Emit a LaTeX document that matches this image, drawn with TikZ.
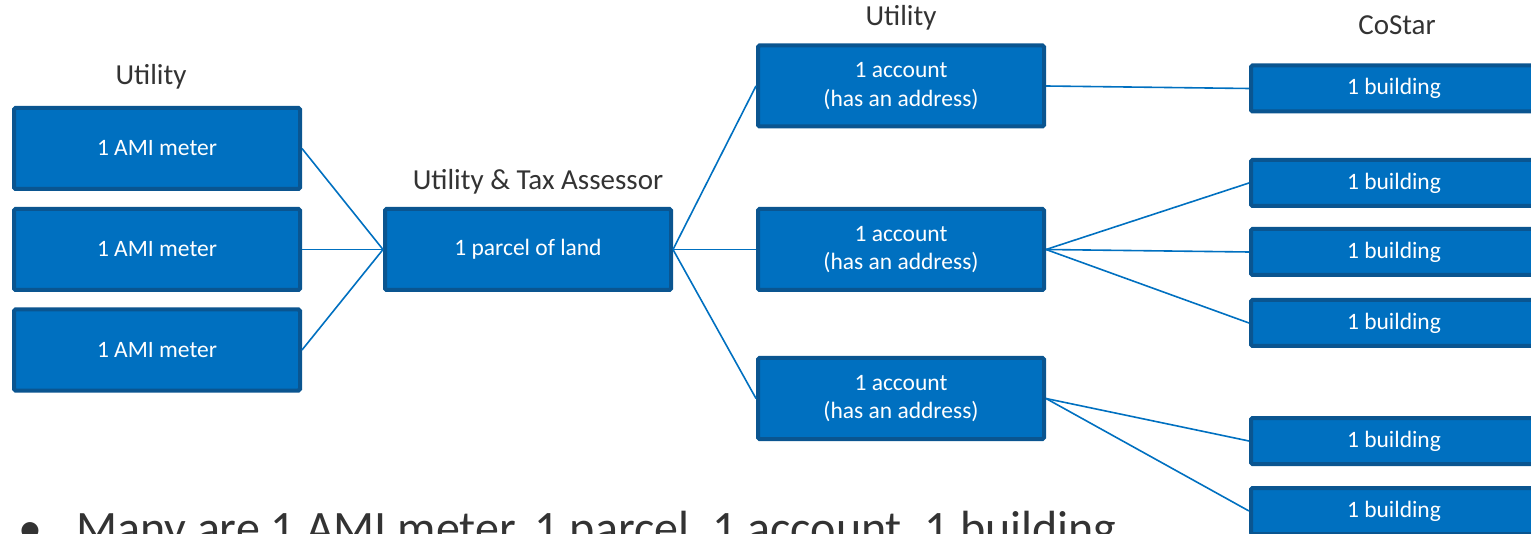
\documentclass[tikz,border=0pt]{standalone}
\usepackage{fontspec}
\setmainfont{Carlito}
\begin{document}
\begin{tikzpicture}[x=1pt,y=-1pt,
  box/.style={draw=boxedge, fill=boxfill, line width=4pt, rounded corners=1.5pt,
    minimum width=286pt, text=white, align=center, font=\fontsize{23.5}{28.5}\selectfont,
    inner sep=0pt},
  tall/.style={box, minimum height=81pt},
  short/.style={box, minimum height=46pt},
  head/.style={text=headtext, font=\fontsize{29}{34}\selectfont, inner sep=0pt},
  link/.style={draw=boxfill, line width=1.6pt}]
\definecolor{boxfill}{HTML}{0070C0}
\definecolor{boxedge}{HTML}{0A5590}
\definecolor{headtext}{HTML}{333333}
\useasboundingbox (0,0) rectangle (1531,534);
\clip (0,0) rectangle (1531,534);

% meters
\node[tall] (m1) at (157,148.5) {1 AMI meter};
\node[tall] (m2) at (157,249.5) {1 AMI meter};
\node[tall] (m3) at (157,350) {1 AMI meter};
\node[head] (hm) at (151,77) {Utility};

% parcel
\node[tall] (p) at (528,249.5) {1 parcel of land};
\node[head] (hp) at (538,182) {Utility \& Tax Assessor};

% accounts
\node[tall] (a1) at (901,86) {1 account\\(has an address)};
\node[tall] (a2) at (901,249.5) {1 account\\(has an address)};
\node[tall] (a3) at (901,398.5) {1 account\\(has an address)};
\node[head] (ha) at (901,18) {Utility};

% buildings
\node[short] (b1) at (1394,88.5) {1 building};
\node[short] (b2) at (1394,183) {1 building};
\node[short] (b3) at (1394,252) {1 building};
\node[short] (b4) at (1394,323) {1 building};
\node[short] (b5) at (1394,441) {1 building};
\node[short] (b6) at (1394,511) {1 building};
\node[head] (hb) at (1397,25) {CoStar};

% connectors
\foreach \m in {m1,m2,m3} \draw[link] (\m.east) -- (p.west);
\foreach \a in {a1,a2,a3} \draw[link] (p.east) -- (\a.west);
\draw[link] (a1.east) -- (b1.west);
\foreach \b in {b2,b3,b4} \draw[link] (a2.east) -- (\b.west);
\foreach \b in {b5,b6} \draw[link] (a3.east) -- (\b.west);

% bullet line
\node[anchor=base west, inner sep=0pt, text=headtext, font=\fontsize{48}{54}\selectfont]
  (note) at (18,544) {\textbullet\hspace{34pt}Many are 1 AMI meter, 1 parcel, 1 account, 1 building};
\end{tikzpicture}
\end{document}
